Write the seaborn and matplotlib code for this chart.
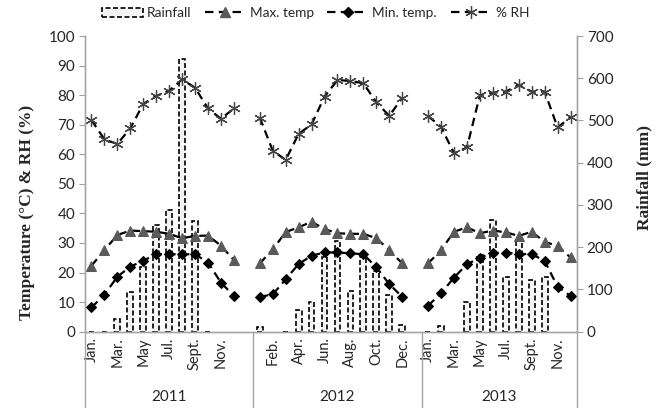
import matplotlib
matplotlib.use("Agg")
import numpy as np
import pandas as pd
import seaborn as sns
import matplotlib.pyplot as plt
from matplotlib.patches import Patch
from matplotlib.lines import Line2D
import matplotlib.transforms as mtransforms

nan = np.nan
months = ["Jan.", "Feb.", "Mar.", "Apr.", "May", "Jun.", "Jul.", "Aug.", "Sept.", "Oct.", "Nov.", "Dec."]
years = ["2011", "2012", "2013"]

max_2011 = [22.3, 27.6, 32.7, 34.2, 34.0, 33.8, 33.1, 31.6, 32.4, 32.5, 29.1, 24.2]
max_2012 = [23.1, 27.8, 33.7, 35.3, 37.2, 34.7, 33.3, 33.1, 33.1, 31.6, 27.6, 23.1]
max_2013 = [23.1, 27.6, 33.8, 35.3, 33.3, 34.2, 33.6, 32.4, 33.8, 30.4, 29.0, 25.1]

min_2011 = [8.2, 12.5, 18.6, 22.0, 24.0, 26.2, 26.2, 26.2, 26.2, 23.4, 16.6, 12.1]
min_2012 = [11.8, 12.6, 17.7, 22.9, 25.7, 26.8, 26.8, 26.5, 26.2, 21.8, 16.1, 11.8]
min_2013 = [8.8, 13.0, 18.3, 22.8, 25.0, 26.7, 26.7, 26.3, 26.2, 24.0, 15.2, 12.1]

rh_2011 = [71.6, 65.0, 63.5, 68.8, 77.0, 79.7, 81.5, 85.3, 82.5, 75.5, 72.0, 75.5]
rh_2012 = [72.4, 61.2, 58.1, 66.9, 70.1, 79.5, 85.1, 84.8, 84.0, 77.6, 73.0, 79.1]
rh_2013 = [72.9, 69.3, 60.3, 62.3, 80.0, 80.8, 81.2, 83.4, 81.2, 81.2, 69.1, 72.5]

rain_2011 = [0, 0, 30, 95, 154, 252, 288, 645, 262, 0, nan, nan]
rain_2012 = [12, nan, 0, 51, 70, 176, 215, 97, 176, 144, 87, 16]
rain_2013 = [0, 14, nan, 71, 182, 265, 130, 218, 123, 130, nan, nan]

series = {
    "Max. temp": [max_2011, max_2012, max_2013],
    "Min. temp.": [min_2011, min_2012, min_2013],
    "% RH": [rh_2011, rh_2012, rh_2013],
}
rains = [rain_2011, rain_2012, rain_2013]

rows = []
rain_rows = []
for k, yr in enumerate(years):
    for m, mon in enumerate(months):
        pos = 13 * k + m
        for name, vals in series.items():
            rows.append({"pos": pos, "year": yr, "var": name, "value": vals[k][m]})
        rain_rows.append({"pos": pos, "year": yr, "rain": rains[k][m]})
df = pd.DataFrame(rows)
rdf = pd.DataFrame(rain_rows).dropna()

sns.set_theme(style="white")
plt.rcParams["font.family"] = ["Lato", "DejaVu Sans"]

W, H = 664, 408
fig = plt.figure(figsize=(W / 100, H / 100), dpi=100)
L, R, B, T = 85, 577, 331.7, 36
ax = fig.add_axes([L / W, 1 - B / H, (R - L) / W, (B - T) / H])
ax2 = ax.twinx()

DASH = (0, (3.8, 2.4))

# rainfall bars on secondary axis
sns.barplot(data=rdf, x="pos", y="rain", ax=ax2, native_scale=True, width=0.45,
            color="#f4f4f4", edgecolor="black", linestyle=(0, (3, 1.5)), linewidth=1.2,
            errorbar=None, saturation=1)

styles = {
    "Max. temp": dict(marker="^", ms=7.5, mfc="#5a5a5a", mec="#5a5a5a"),
    "Min. temp.": dict(marker="D", ms=5.5, mfc="black", mec="black"),
    "% RH": dict(marker=(6, 2, 0), ms=9, mfc="#444444", mec="#444444", mew=0.9),
}
for name, st in styles.items():
    sub = df[df["var"] == name]
    sns.lineplot(data=sub, x="pos", y="value", units="year", estimator=None, ax=ax,
                 color="black", linewidth=1.6, linestyle=DASH, **st)

ax.set_zorder(ax2.get_zorder() + 1)
ax.patch.set_visible(False)

ax.set_xlim(-0.5, 37.5)
ax.set_ylim(0, 100)
ax2.set_ylim(0, 700)
ax.set_yticks(np.arange(0, 101, 10))
ax2.set_yticks(np.arange(0, 701, 100))

ticks = list(range(0, 38, 2))
labels = []
for p in ticks:
    k, m = divmod(p, 13)
    labels.append(months[m] if m < 12 else "")
ax.set_xticks(ticks)
ax.set_xticklabels(labels, rotation=90, fontsize=10.5, color="#262626")
ax.tick_params(axis="x", length=0, pad=4)
ax.tick_params(axis="y", direction="out", length=4, width=0.8, color="#a0a0a0",
               labelsize=11, labelcolor="#262626", pad=3, left=True)
ax2.tick_params(axis="y", direction="out", length=4, width=0.8, color="#a0a0a0",
                labelsize=11, labelcolor="#262626", pad=3, right=True)
ax.set_xlabel("")
ax2.set_xlabel("")

for a in (ax, ax2):
    for s in a.spines.values():
        s.set_color("#a6a6a6")
        s.set_linewidth(1.0)
    a.spines["top"].set_visible(False)
    a.grid(False)

ax.set_ylabel("Temperature (°C) & RH (%)", family=["Liberation Serif"], fontweight="bold",
              fontsize=12.5, color="#262626")
ax.yaxis.set_label_coords(-0.101, 0.405)
ax2.set_ylabel("Rainfall (mm)", family=["Liberation Serif"], fontweight="bold",
               fontsize=12.5, color="#262626", rotation=90)
ax2.yaxis.set_label_coords(1.121, 0.52)

trans = mtransforms.blended_transform_factory(ax.transData, ax.transAxes)
for xs in (-0.5, 12.5, 25.5, 37.5):
    ax.plot([xs, xs], [0, -0.27], transform=trans, color="#a6a6a6", lw=1.0, clip_on=False)
for k, yr in enumerate(years):
    lo = -0.5 + 13 * k
    hi = min(lo + 13, 37.5)
    ax.text((lo + hi) / 2, -0.222, yr, transform=trans, ha="center", va="center",
            fontsize=11, color="#262626")

handles = [
    Patch(facecolor="#f4f4f4", edgecolor="black", linestyle=(0, (3, 1.5)), linewidth=1.2),
    Line2D([], [], color="black", ls=DASH, lw=1.6, **styles["Max. temp"]),
    Line2D([], [], color="black", ls=DASH, lw=1.6, **styles["Min. temp."]),
    Line2D([], [], color="black", ls=DASH, lw=1.6, **styles["% RH"]),
]
fig.legend(handles, ["Rainfall", "Max. temp", "Min. temp.", "% RH"], loc="center",
           bbox_to_anchor=(0.475, 0.968), ncol=4, frameon=False, fontsize=9.8,
           handlelength=3.0, columnspacing=1.0, handletextpad=0.3)

fig.savefig("out.png", dpi=100)
